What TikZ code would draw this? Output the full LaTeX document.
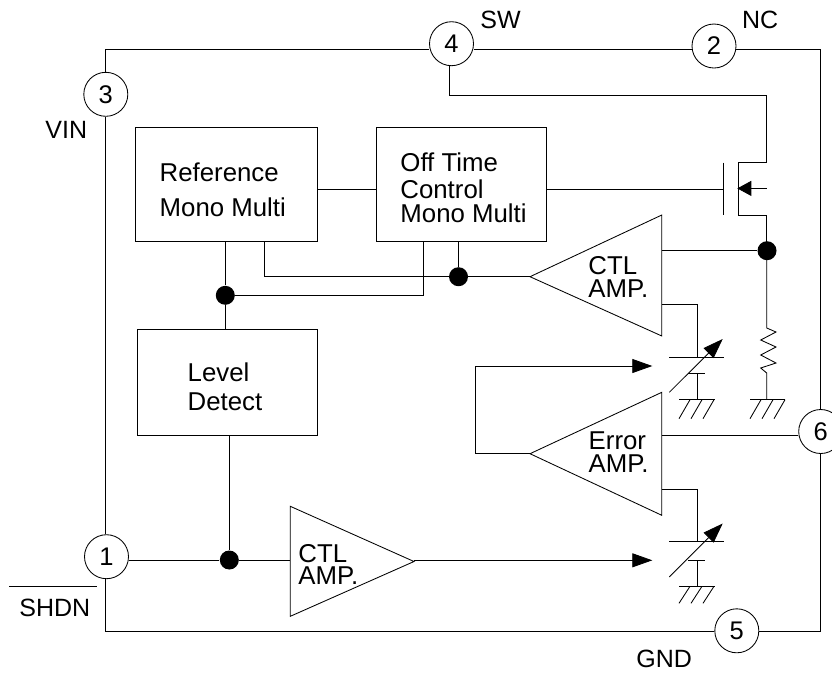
\documentclass[tikz,border=0pt]{standalone}
\usepackage{fontspec}
\setmainfont{Liberation Sans}
\usetikzlibrary{arrows.meta}
\newcommand{\lbl}[1]{\fontsize{25}{#1}\selectfont}
\newcommand{\blbl}[1]{\fontsize{25.8}{#1}\selectfont}
\tikzset{
  x=1pt,y=-1pt,
  every path/.style={line width=0.85pt,color=black},
  pin/.style={draw,circle,fill=white,minimum size=44pt,inner sep=0pt,font=\fontsize{25.5}{25.5}\selectfont,text=black},
  lab/.style={inner sep=0pt,text=black,align=left,anchor=base west},
  blk/.style={draw,rectangle,inner sep=0pt},
  dot/.style={circle,fill=black,draw=none,minimum size=19pt,inner sep=0pt},
  tip/.style={-{Triangle[length=20pt,width=14pt]}},
  tipsmall/.style={-{Triangle[length=14pt,width=15pt]}}
}
\begin{document}
\begin{tikzpicture}
\useasboundingbox (0,0) rectangle (832,673);
% corners
\coordinate (tl) at (105.8,49);
\coordinate (tr) at (820.7,49);
\coordinate (bl) at (105.8,631.2);
\coordinate (br) at (820.7,631.2);
% blocks
\node[blk,minimum width=181.3pt,minimum height=113.6pt] (refbox) at (226.4,184.5) {};
\node[blk,minimum width=170pt,minimum height=113.6pt] (offbox) at (461.5,184.5) {};
\node[blk,minimum width=179.5pt,minimum height=106.5pt] (lvlbox) at (227.3,382.2) {};
% triangles
\coordinate (ca) at (530,276.7); \coordinate (cat) at (661.8,215); \coordinate (cab) at (661.8,336);
\coordinate (ea) at (530,453.7); \coordinate (eat) at (661.8,392.3); \coordinate (eab) at (661.8,515.3);
\coordinate (ba) at (414,561.5); \coordinate (bat) at (290.3,506.3); \coordinate (bab) at (290.3,616.3);
\draw (ca) -- (cat) -- (cab) -- cycle;
\draw (ea) -- (eat) -- (eab) -- cycle;
\draw (ba) -- (bat) -- (bab) -- cycle;
% junctions
\node[dot] (j1) at (767,250.7) {};
\node[dot] (j2) at (458.5,276.7) {};
\node[dot] (j3) at (225.3,295.3) {};
\node[dot] (j4) at (229.3,560) {};
% pins
\node[pin] (p3) at (105.8,94.3) {3};
\node[pin] (p4) at (451.5,43.7) {4};
\node[pin] (p2) at (714,46) {2};
\node[pin] (p6) at (820.7,431.5) {6};
\node[pin] (p5) at (736.8,630.8) {5};
\node[pin] (p1) at (106.5,556.7) {1};
% outer frame
\draw (p3) -- (tl) -- (tl -| p4.west);
\draw (tl -| p4.east) -- (tl -| p2.west);
\draw (tl -| p2.east) -- (tr) -- (p6);
\draw (p6) -- (br) -- (br -| p5.east);
\draw (bl -| p5.west) -- (bl) -- (p1.south -| bl);
\draw (p1.north -| bl) -- (p3.south -| bl);
% MOSFET
\coordinate (gbt) at (723.7,162.7); \coordinate (gbb) at (723.7,215);
\coordinate (cht) at (738.7,162.7); \coordinate (chb) at (738.7,215);
\coordinate (dr) at (766.7,162.7); \coordinate (sr) at (766.7,215);
\coordinate (bd) at (766.7,188.4);
\coordinate (chm) at (737.3,188.4);
\draw (gbt) -- (gbb);
\draw (dr) -- (cht) -- (chb) -- (sr);
\draw[tipsmall] (bd) -- (chm);
\coordinate (gw) at (723.7,189);
\draw (offbox.east |- gw) -- (gw);
\coordinate (p4d) at (449.3,95.7);
\draw (p4.south -| p4d) -- (p4d) -- (p4d -| dr) -- (dr);
\draw (sr) -- (sr |- j1);
% Resistor
\coordinate (rt) at (766.7,328);
\coordinate (rb) at (766.7,373);
\coordinate (g1) at (766.7,399.7);
\draw (j1 -| rt) -- (rt) -- (776,332) -- (760.7,340) -- (776,347) -- (760.7,355) -- (776,363) -- (760.7,368) -- (rb) -- (g1);
\draw (750,399.7) -- (785.3,399.7);
\foreach \x in {761,773,785} \draw (\x,399.7) -- (\x-11,418.7);
% block wires
\coordinate (rw) at (264.3,276.7);
\coordinate (ow) at (423.3,295.3);
\draw (refbox.east |- gw) -- (offbox.west |- gw);
\draw (refbox.south -| rw) -- (rw) -- (j2);
\draw (j2) -- (ca);
\draw (j2) -- (j2 |- offbox.south);
\draw (offbox.south -| ow) -- (ow) -- (j3);
\draw (j3) -- (j3 |- refbox.south);
\draw (j3) -- (j3 |- lvlbox.north);
\draw (cat |- j1) -- (j1);
\draw (j4 |- lvlbox.south) -- (j4);
\draw (p1.east |- j4) -- (j4);
\draw (j4) -- (bat |- j4);
% capacitor 1
\coordinate (c1w) at (697.7,304.7);
\coordinate (c1a) at (697.7,357);
\coordinate (c1b) at (697.7,373.7);
\coordinate (c1g) at (697.7,399.7);
\draw (cat |- c1w) -- (c1w) -- (c1a);
\draw (669.3,357) -- (724,357);
\draw (688,373.7) -- (705,373.7);
\draw (c1b) -- (c1g);
\draw (679,399.7) -- (715,399.7);
\foreach \x in {690,702,714} \draw (\x,399.7) -- (\x-11,418.7);
\draw[tip] (669.3,392.3) -- (722.7,339);
% capacitor 2
\coordinate (c2w) at (697.7,489.3);
\coordinate (c2a) at (697.7,541.7);
\coordinate (c2b) at (697.7,560.3);
\coordinate (c2g) at (697.7,586.3);
\draw (eat |- c2w) -- (c2w) -- (c2a);
\draw (669.3,541.7) -- (724,541.7);
\draw (688,560.3) -- (705,560.3);
\draw (c2b) -- (c2g);
\draw (679,586.3) -- (715,586.3);
\foreach \x in {690,702,714} \draw (\x,586.3) -- (\x-11,603.3);
\draw[tip] (669.3,577) -- (722.7,523.5);
% error feedback
\coordinate (fb1) at (475.3,453.7);
\coordinate (fb2) at (475.3,366);
\coordinate (fb3) at (652.3,366);
\coordinate (ci) at (652.3,560.3);
\draw[tip] (ea) -- (fb1) -- (fb2) -- (fb3);
\coordinate (ew) at (661.8,435);
\draw (ew) -- (ew -| p6.west);
\draw[tip] (ba |- ci) -- (ci);
% labels
\node[lab,font=\blbl{35}] (t1) at (159.3,216.7) {Reference\\Mono Multi};
\node[lab,font=\blbl{24.4}] (t2) at (400,222.7) {Off Time\\[2pt]Control\\Mono Multi};
\node[lab,font=\blbl{29}] (t3) at (187.3,410.7) {Level\\Detect};
\node[lab,font=\blbl{23.5}] (t4) at (588,297.7) {CTL\\AMP.};
\node[lab,font=\blbl{23}] (t5) at (588.3,472.7) {Error\\AMP.};
\node[lab,font=\blbl{22}] (t6) at (298,584.3) {CTL\\AMP.};
\node[lab,font=\lbl{25}] (t7) at (480,28.3) {SW};
\node[lab,font=\lbl{25}] (t8) at (741.7,28.3) {NC};
\node[lab,font=\lbl{25}] (t9) at (45,138.3) {VIN};
\node[lab,font=\lbl{25}] (t10) at (19,616.7) {SHDN};
\node[lab,font=\lbl{25}] (t11) at (636,667.7) {GND};
\coordinate (ol) at (9,586.3); \coordinate (or) at (96.7,586.3);
\draw (ol) -- (or);
\end{tikzpicture}
\end{document}
